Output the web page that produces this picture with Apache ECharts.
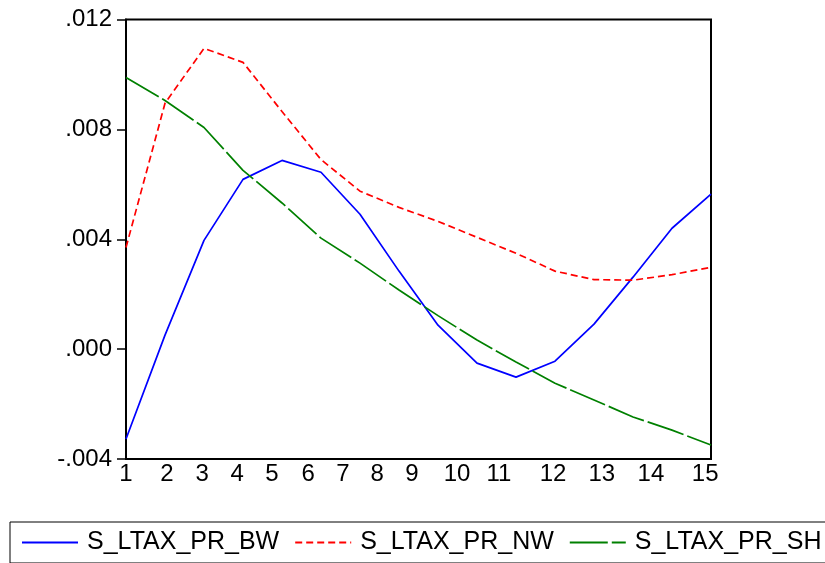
<!DOCTYPE html>
<html>
<head>
<meta charset="utf-8">
<script src="https://cdn.jsdelivr.net/npm/echarts@6/dist/echarts.min.js"></script>
<style>
html,body{margin:0;padding:0;background:#fff;}
#chart{width:825px;height:563px;}
</style>
</head>
<body>
<div id="chart"></div>
<script>
// horizon steps (16 observations)
const steps = ['0','1','2','3','4','5','6','7','8','9','10','11','12','13','14','15'];
// series values
const sBW = [-0.00327, 0.00051, 0.00396, 0.00618, 0.00687, 0.00644, 0.00491, 0.00284, 0.00087, -0.00051, -0.00102, -0.00044, 0.00091, 0.00262, 0.00440, 0.00564];
const sNW = [0.00370, 0.00895, 0.01095, 0.01044, 0.00865, 0.00690, 0.00575, 0.00516, 0.00465, 0.00407, 0.00349, 0.00284, 0.00253, 0.00251, 0.00271, 0.00298];
const sSH = [0.00989, 0.00905, 0.00807, 0.00651, 0.00532, 0.00404, 0.00313, 0.00215, 0.00122, 0.00033, -0.00047, -0.00124, -0.00185, -0.00247, -0.00295, -0.00349];
const seriesNames = ['S_LTAX_PR_BW', 'S_LTAX_PR_NW', 'S_LTAX_PR_SH'];
// x tick labels and where they sit along the observation axis
const xTickLabels = ['1','2','3','4','5','6','7','8','9','10','11','12','13','14','15'];
const xTickAt = [0, 1.05, 1.95, 2.85, 3.74, 4.67, 5.56, 6.44, 7.33, 8.49, 9.56, 10.95, 12.2, 13.46, 14.85];

const FONT = 'Liberation Sans, Arial, Helvetica, sans-serif';
const chart = echarts.init(document.getElementById('chart'), null, {renderer: 'canvas'});

function yFmt(v) {
  const s = Math.abs(v).toFixed(3).replace(/^0/, '');
  return (v < -1e-12 ? '-' : '') + s;
}

chart.setOption({
  animation: false,
  backgroundColor: '#fff',
  grid: {left: 126, right: 114, top: 19.5, bottom: 104, show: true, borderColor: '#000', borderWidth: 2, backgroundColor: 'transparent'},
  xAxis: [
    {
      type: 'category', data: steps, boundaryGap: false,
      axisLine: {show: false}, axisTick: {show: false}, axisLabel: {show: false}, splitLine: {show: false}
    },
    {
      type: 'value', min: 0, max: 15, position: 'bottom',
      axisLine: {show: true, lineStyle: {color: '#000', width: 2}},
      axisTick: {show: false},
      splitLine: {show: false},
      axisLabel: {
        show: true, customValues: xTickAt, margin: 3,
        color: '#000', fontSize: 24, fontFamily: FONT,
        formatter: function (v) { const i = xTickAt.indexOf(v); return i >= 0 ? xTickLabels[i] : ''; }
      }
    }
  ],
  yAxis: {
    type: 'value', min: -0.004, max: 0.012, interval: 0.004,
    axisLine: {show: true, lineStyle: {color: '#000', width: 2}},
    axisTick: {show: true, length: 9, lineStyle: {color: '#000', width: 1.5}},
    splitLine: {show: false},
    axisLabel: {color: '#000', fontSize: 24, fontFamily: FONT, margin: 14, formatter: yFmt}
  },
  legend: {
    left: 10, top: 522, width: 840,
    padding: [8, 10, 8, 11],
    itemGap: 15, itemWidth: 56, itemHeight: 14,
    borderColor: '#000', borderWidth: 1,
    itemStyle: {opacity: 0, borderWidth: 0},
    textStyle: {color: '#000', fontSize: 25, fontFamily: FONT, lineHeight: 24, padding: [0, 0, 0, 4]},
    data: seriesNames
  },
  series: [
    {name: seriesNames[0], type: 'line', data: sBW, xAxisIndex: 0, symbol: 'none', showSymbol: false,
     lineStyle: {color: '#0000ff', width: 1.7, type: 'solid'}, itemStyle: {color: '#0000ff'}},
    {name: seriesNames[1], type: 'line', data: sNW, xAxisIndex: 0, symbol: 'none', showSymbol: false,
     lineStyle: {color: '#ff0000', width: 1.7, type: [7, 4]}, itemStyle: {color: '#ff0000'}},
    {name: seriesNames[2], type: 'line', data: sSH, xAxisIndex: 0, symbol: 'none', showSymbol: false,
     lineStyle: {color: '#008000', width: 1.7, type: [38, 4]}, itemStyle: {color: '#008000'}}
  ]
});
</script>
</body>
</html>
